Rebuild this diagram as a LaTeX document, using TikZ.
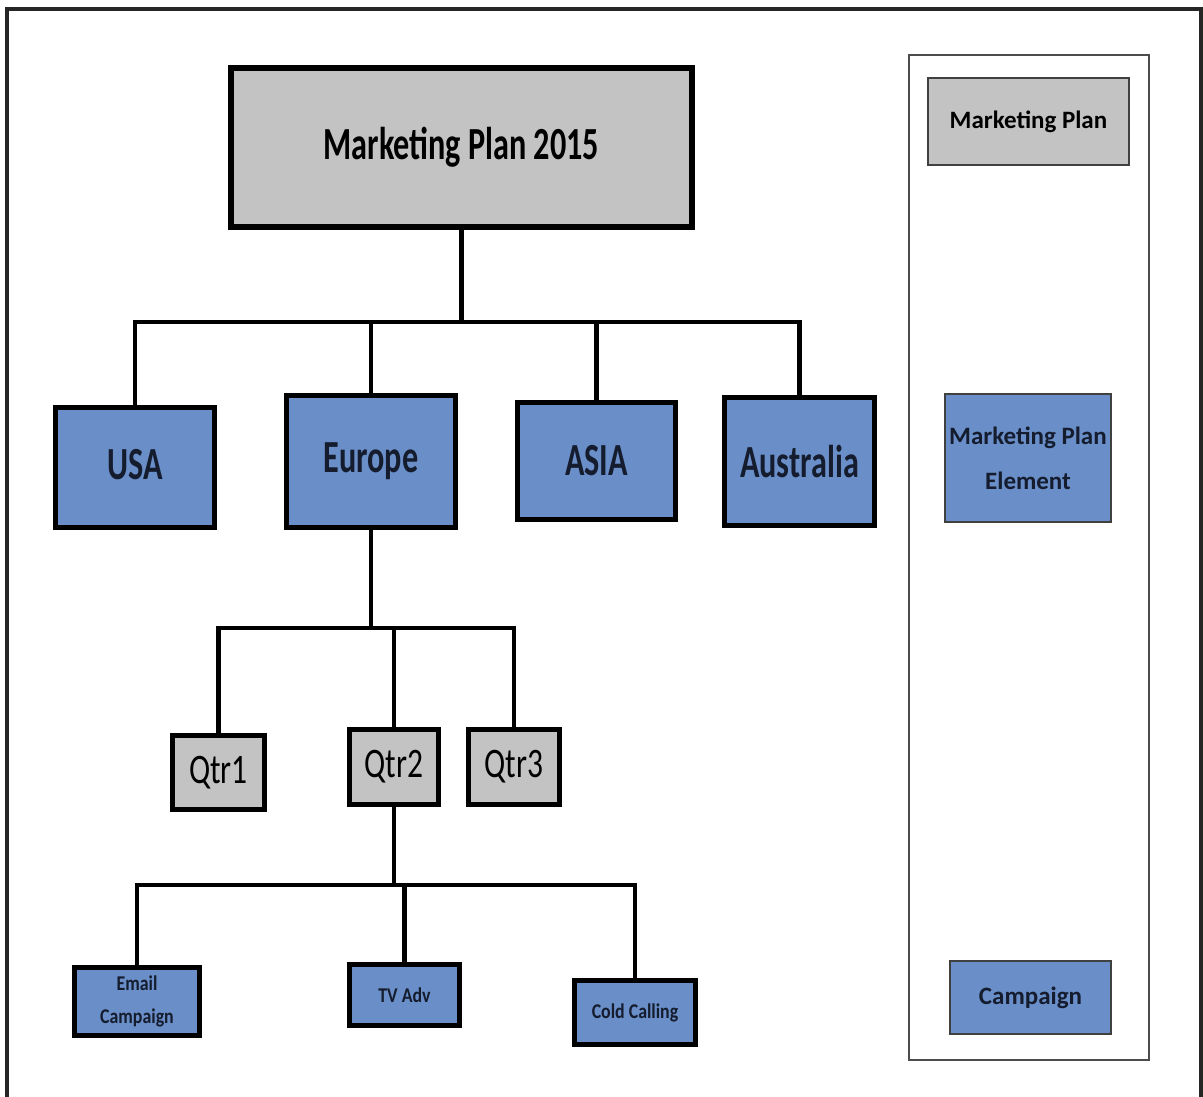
\documentclass[tikz,border=0pt]{standalone}
\usepackage{fontspec}
\setmainfont{Carlito}
\usepackage{graphicx}
\newcommand{\narrow}[2][0.7]{\scalebox{#1}[1]{#2}}
\definecolor{plan_gray}{HTML}{C3C3C3}
\definecolor{element_blue}{HTML}{6A8EC8}
\definecolor{text_navy}{HTML}{141C2E}
\begin{document}
\begin{tikzpicture}[x=1pt,y=-1pt,
    box/.style={draw=black,line width=5pt,inner sep=0pt,align=center},
    plan_node/.style={box,fill=plan_gray},
    elem_node/.style={box,fill=element_blue,text=text_navy},
    big_text/.style={font=\fontsize{46}{50}\selectfont\bfseries},
    qtr_text/.style={font=\fontsize{42}{46}\selectfont},
    small_text/.style={font=\fontsize{21}{33}\selectfont\bfseries},
    key_node/.style={draw=black!75,line width=1.5pt,inner sep=0pt,align=center,font=\fontsize{25}{45}\selectfont\bfseries},
    link/.style={line width=4.5pt}]
    \useasboundingbox (0,0) rectangle (1203,1097);
    \fill[white] (0,0) rectangle (1203,1097);
    \draw[line width=3.5pt,black!85] (7,1097) -- (7,9) -- (1201,9) -- (1201,1097);

    \node[plan_node,big_text,line width=6pt,minimum width=461pt,minimum height=159pt] (plan) at (461.5,147.5) {\narrow{Marketing Plan 2015}};

    \node[elem_node,big_text,minimum width=159pt,minimum height=120pt] (usa) at (135,467.5) {\raisebox{7pt}{\narrow{USA}}};
    \node[elem_node,big_text,minimum width=169pt,minimum height=132pt] (eur) at (371,461.5) {\narrow{Europe}};
    \node[elem_node,big_text,minimum width=158pt,minimum height=117pt] (asia) at (596.5,461) {\narrow{ASIA}};
    \node[elem_node,big_text,minimum width=150pt,minimum height=128pt] (aus) at (799.5,461.5) {\narrow{Australia}};

    \node[plan_node,qtr_text,minimum width=92pt,minimum height=74pt] (q1) at (218.5,772.5) {\narrow[0.75]{Qtr1}};
    \node[plan_node,qtr_text,minimum width=89pt,minimum height=75pt] (q2) at (394,767) {\narrow[0.75]{Qtr2}};
    \node[plan_node,qtr_text,minimum width=91pt,minimum height=75pt] (q3) at (514,767) {\narrow[0.75]{Qtr3}};

    \node[elem_node,small_text,minimum width=125pt,minimum height=68pt] (email) at (137,1001.5) {\narrow[0.85]{Email}\\\narrow[0.85]{Campaign}};
    \node[elem_node,small_text,minimum width=110pt,minimum height=61pt] (tv) at (404.5,995) {\narrow[0.85]{TV Adv}};
    \node[elem_node,small_text,minimum width=121pt,minimum height=64pt] (cold) at (635,1012.5) {\narrow[0.85]{Cold Calling}};

    % connectors
    \coordinate (top_bar) at (461.5,322);
    \coordinate (eur_bar) at (371,628);
    \coordinate (q2_bar) at (394,885);
    \draw[link] (plan.south) -- (top_bar);
    \draw[link] (usa.north) |- (top_bar) -| (aus.north);
    \draw[link] (eur.north) -- (eur.north |- top_bar);
    \draw[link] (asia.north) -- (asia.north |- top_bar);
    \draw[link] (eur.south) -- (eur_bar);
    \draw[link] (q1.north) |- (eur_bar) -| (q3.north);
    \draw[link] (q2.north) -- (q2.north |- eur_bar);
    \draw[link] (q2.south) -- (q2_bar);
    \draw[link] (email.north) |- (q2_bar) -| (cold.north);
    \draw[link] (tv.north) -- (tv.north |- q2_bar);

    % legend
    \draw[line width=2pt,black!70] (909,55) rectangle (1149,1060);
    \node[key_node,fill=plan_gray,minimum width=201pt,minimum height=87pt] (key_plan) at (1028.5,121.5) {Marketing Plan};
    \node[key_node,fill=element_blue,text=text_navy,minimum width=166pt,minimum height=128pt] (key_elem) at (1028,458) {Marketing Plan\\Element};
    \node[key_node,fill=element_blue,text=text_navy,minimum width=161pt,minimum height=73pt] (key_camp) at (1030.5,997.5) {Campaign};
\end{tikzpicture}
\end{document}
